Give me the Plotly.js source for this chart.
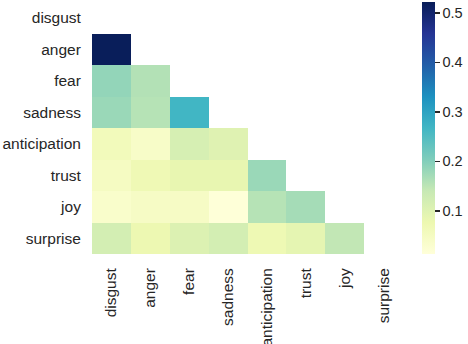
<!DOCTYPE html>
<html>
<head>
<meta charset="utf-8">
<script src="https://cdn.plot.ly/plotly-3.0.1.min.js"></script>
<style>
  html, body { margin: 0; padding: 0; background: #fff; }
  #chart { width: 468px; height: 344px; }
</style>
</head>
<body>
<div id="chart"></div>
<script>
// emotion labels (rows top to bottom, columns left to right)
var emotions = ["disgust", "anger", "fear", "sadness", "anticipation", "trust", "joy", "surprise"];

// lower triangle of the matrix, upper part + diagonal is masked (null)
var rowDisgust      = [null, null, null, null, null, null, null, null];
var rowAnger        = [0.520, null, null, null, null, null, null, null];
var rowFear         = [0.186, 0.158, null, null, null, null, null, null];
var rowSadness      = [0.180, 0.155, 0.267, null, null, null, null, null];
var rowAnticipation = [0.060, 0.040, 0.115, 0.100, null, null, null, null];
var rowTrust        = [0.050, 0.070, 0.085, 0.085, 0.180, null, null, null];
var rowJoy          = [0.035, 0.045, 0.045, 0.015, 0.155, 0.170, null, null];
var rowSurprise     = [0.120, 0.075, 0.105, 0.120, 0.072, 0.090, 0.145, null];

var colorbarTicks = [0.1, 0.2, 0.3, 0.4, 0.5];

// YlGnBu (matplotlib)
var ylgnbu = [
    [0.0, "#ffffd9"], [0.125, "#edf8b1"], [0.25, "#c7e9b4"],
    [0.375, "#7fcdbb"], [0.5, "#41b6c4"], [0.625, "#1d91c0"],
    [0.75, "#225ea8"], [0.875, "#253494"], [1.0, "#081d58"]
];

var matriu = [rowDisgust, rowAnger, rowFear, rowSadness, rowAnticipation, rowTrust, rowJoy, rowSurprise];

var dades = [{
    type: "heatmap",
    x: emotions,
    y: emotions,
    z: matriu,
    zmin: 0.013,
    zmax: 0.522,
    colorscale: ylgnbu,
    hoverongaps: false,
    colorbar: {
        x: 1.061, xanchor: "left", xpad: 0,
        y: 0.5, yanchor: "middle", ypad: 0,
        len: 1, lenmode: "fraction",
        thickness: 13,
        outlinewidth: 0,
        tickvals: colorbarTicks,
        ticktext: colorbarTicks.map(function (v) { return v.toFixed(1); }),
        ticks: "outside", ticklen: 5, tickwidth: 1.5, tickcolor: "#262626",
        tickfont: { family: "Liberation Sans, Arial, sans-serif", size: 14.5, color: "#262626" }
    }
}];

var layout = {
    width: 468,
    height: 344,
    margin: { l: 92, r: 65, t: 2, b: 90, pad: 0, autoexpand: false },
    paper_bgcolor: "#fff",
    plot_bgcolor: "#fff",
    font: { family: "Liberation Sans, Arial, sans-serif", size: 15.5, color: "#262626" },
    xaxis: {
        type: "category",
        tickangle: -90,
        automargin: false,
        ticks: "outside", ticklen: 7, tickcolor: "rgba(0,0,0,0)",
        showgrid: false, zeroline: false, showline: false
    },
    yaxis: {
        type: "category",
        autorange: "reversed",
        automargin: false,
        ticks: "outside", ticklen: 7, tickcolor: "rgba(0,0,0,0)",
        showgrid: false, zeroline: false, showline: false
    }
};

Plotly.newPlot("chart", dades, layout, { displayModeBar: false, staticPlot: true });
</script>
</body>
</html>
